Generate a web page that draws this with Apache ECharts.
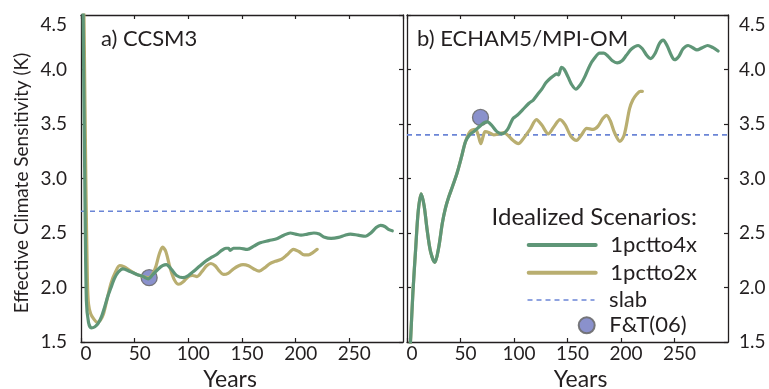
<!DOCTYPE html>
<html>
<head>
<meta charset="utf-8">
<script src="https://cdn.jsdelivr.net/npm/echarts@6/dist/echarts.min.js"></script>
<style>
  html, body { margin: 0; padding: 0; background: #ffffff; }
  #chart { width: 769px; height: 389px; }
</style>
</head>
<body>
<div id="chart"></div>
<script>
// Effective climate sensitivity (K) against years, two coupled models.
// Each run is a list of [year, sensitivity] pairs.

// Panel a) CCSM3
const ccsm3Pct4x = [
  [1.5, 5.0], [2.2, 4.3], [3.4, 3.1], [5, 1.88], [7, 1.68], [9.6, 1.63], [13, 1.64],
  [16, 1.67], [19, 1.73], [22, 1.82], [25, 1.92], [28, 2.0], [31, 2.08], [34.6, 2.14],
  [39, 2.17], [45, 2.15], [52, 2.12], [58, 2.1], [62.6, 2.08], [67, 2.12], [72, 2.17],
  [76, 2.2], [79.5, 2.21], [84, 2.17], [89, 2.11], [95, 2.09], [100, 2.11], [105, 2.15],
  [111, 2.2], [116, 2.24], [120.5, 2.27], [126, 2.3], [131, 2.34], [135, 2.36],
  [137.5, 2.36], [139, 2.34], [142, 2.36], [148, 2.36], [155, 2.35], [161, 2.38],
  [167, 2.41], [175, 2.43], [183, 2.45], [189, 2.48], [195, 2.5], [200, 2.49],
  [205, 2.48], [211, 2.49], [217, 2.5], [222, 2.49], [227, 2.46], [233, 2.45],
  [240, 2.46], [246, 2.48], [251, 2.49], [258, 2.48], [265, 2.47], [270, 2.5],
  [275, 2.55], [279, 2.57], [283, 2.56], [287, 2.53], [290, 2.52]
];
const ccsm3Pct2x = [
  [2.0, 5.0], [3.0, 4.3], [4.5, 3.0], [6, 2.05], [7, 1.85], [9, 1.76], [12, 1.71],
  [15, 1.68], [18, 1.7], [21, 1.76], [24, 1.88], [28, 2.04], [32, 2.14], [36, 2.2],
  [40, 2.19], [45, 2.16], [52, 2.12], [58, 2.1], [63, 2.09], [67, 2.13], [70, 2.2],
  [73, 2.31], [76, 2.37], [79, 2.33], [83, 2.18], [87, 2.07], [91, 2.03], [95, 2.05],
  [100, 2.1], [104, 2.11], [108, 2.1], [113, 2.15], [117, 2.2], [121, 2.22], [125, 2.2],
  [129, 2.15], [133, 2.12], [137, 2.13], [142, 2.17], [147, 2.2], [151, 2.21],
  [156, 2.2], [161, 2.17], [166, 2.15], [171, 2.18], [176, 2.22], [181, 2.24],
  [187, 2.26], [192, 2.3], [198, 2.35], [203, 2.33], [208, 2.3], [212, 2.3],
  [216, 2.32], [220, 2.35]
];
const ccsm3Slab = 2.70;
const ccsm3FT = [[63.5, 2.09]];

// Panel b) ECHAM5/MPI-OM
const echamPct4x = [
  [2, 1.3], [3.5, 1.55], [5.5, 1.95], [8, 2.34], [10.5, 2.7], [13.2, 2.86], [16, 2.75],
  [18.8, 2.53], [22, 2.33], [26, 2.23], [29.5, 2.36], [33, 2.59], [36, 2.73], [39, 2.83],
  [43, 2.94], [46.8, 3.05], [51, 3.2], [54.7, 3.34], [58.5, 3.4], [62.4, 3.43], [67, 3.47],
  [71.8, 3.51], [75, 3.52], [79, 3.49], [84, 3.43], [89, 3.41], [94, 3.45], [99, 3.55],
  [103, 3.58], [108, 3.63], [114, 3.69], [118, 3.72], [122, 3.77], [126, 3.82],
  [130, 3.88], [134, 3.92], [138, 3.95], [140, 3.96], [141.5, 3.95], [144.4, 4.02],
  [147, 4.0], [150.6, 3.93], [154, 3.86], [157.8, 3.82], [162, 3.86], [166, 3.93],
  [171, 4.04], [175, 4.1], [180, 4.15], [184, 4.15], [188, 4.12], [192, 4.08],
  [196.4, 4.06], [201, 4.08], [205, 4.13], [210, 4.19], [216, 4.22], [220, 4.19],
  [224, 4.13], [227.6, 4.1], [232, 4.15], [236, 4.24], [239.4, 4.27], [243, 4.22],
  [247, 4.13], [250, 4.09], [254, 4.12], [258, 4.19], [262.7, 4.22], [267, 4.2],
  [271, 4.18], [276, 4.2], [281, 4.22], [286, 4.2], [290.7, 4.17]
];
const echamPct2x = [
  [2, 1.3], [3.5, 1.55], [5.5, 1.95], [8, 2.34], [10.5, 2.7], [13.2, 2.86], [16, 2.75],
  [18.8, 2.53], [22, 2.33], [26, 2.23], [29.5, 2.36], [33, 2.59], [36, 2.73], [39, 2.83],
  [43, 2.94], [46.8, 3.05], [51, 3.2], [54.7, 3.34], [59, 3.43], [64, 3.45], [66.5, 3.4],
  [69, 3.32], [71, 3.38], [73, 3.43], [77, 3.42], [81, 3.40], [86, 3.41], [90.5, 3.42],
  [95, 3.39], [99, 3.35], [104, 3.32], [109, 3.37], [115, 3.45], [121, 3.54], [126, 3.49],
  [132, 3.41], [137, 3.47], [143, 3.54], [148, 3.49], [153, 3.39], [158.4, 3.35],
  [163, 3.4], [168, 3.46], [174, 3.45], [178.6, 3.48], [183, 3.55], [186.5, 3.58],
  [190, 3.53], [194, 3.42], [199, 3.34], [203, 3.4], [208, 3.64], [211, 3.72],
  [214.5, 3.77], [218, 3.8], [220, 3.8]
];
const echamSlab = 3.40;
const echamFT = [[68.7, 3.56]];

const yearTicks = [0, 50, 100, 150, 200, 250, 300];
const sensitivityTicks = [1.5, 2.0, 2.5, 3.0, 3.5, 4.0, 4.5];

const FONT = 'Lato';
const INK = '#231f20';
const GREEN = '#5f9677';
const OLIVE = '#b9ae70';
const SLAB_BLUE = '#6b85d6';
const FT_FILL = '#8088c8';

const yearMin = yearTicks[0], yearMax = yearTicks[yearTicks.length - 1];
const yearStep = yearTicks[1] - yearTicks[0];
const sMin = sensitivityTicks[0], sMax = sensitivityTicks[sensitivityTicks.length - 1];
const sStep = sensitivityTicks[1] - sensitivityTicks[0];

const frameLine = { show: true, onZero: false, lineStyle: { color: INK, width: 1.3 } };
const innerTick = { show: true, inside: true, length: 4, lineStyle: { color: INK, width: 1.2 } };

function xAxes(gridIndex, namePadding) {
  return [
    {
      gridIndex, type: 'value', position: 'bottom', min: yearMin, max: yearMax, interval: yearStep,
      axisLine: frameLine, axisTick: innerTick, splitLine: { show: false },
      axisLabel: { show: true, fontFamily: FONT, fontSize: 19, color: INK, margin: 2,
                   showMaxLabel: false, padding: [0, 0, 0, 10] },
      name: 'Years', nameLocation: 'middle', nameGap: 25,
      nameTextStyle: { fontFamily: FONT, fontSize: 23, color: INK, padding: namePadding }
    },
    {
      gridIndex, type: 'value', position: 'top', min: yearMin, max: yearMax, interval: yearStep,
      axisLine: frameLine, axisTick: innerTick, splitLine: { show: false },
      axisLabel: { show: false }
    }
  ];
}

function yAxes(gridIndex, labelSide) {
  const make = (pos) => {
    const labelled = pos === labelSide;
    return {
      gridIndex, type: 'value', position: pos, min: sMin, max: sMax, interval: sStep,
      axisLine: frameLine, axisTick: innerTick, splitLine: { show: false },
      axisLabel: labelled ? {
        show: true, fontFamily: FONT, fontSize: 19, color: INK,
        margin: pos === 'left' ? 14 : 11,
        verticalAlignMaxLabel: 'top',
        formatter: (v) => v.toFixed(1)
      } : { show: false }
    };
  };
  return [make('left'), make('right')];
}

function runLine(name, data, color, xi, yi, z) {
  return {
    name, type: 'line', data, xAxisIndex: xi, yAxisIndex: yi,
    showSymbol: false, symbol: 'none', smooth: 0.3, clip: true, z,
    lineStyle: { color, width: 3.2, cap: 'round', join: 'round' },
    itemStyle: { color }, emphasis: { disabled: true }, silent: true
  };
}

function slabLine(value, xi, yi) {
  return {
    name: 'slab', type: 'line', data: [[yearMin, value], [yearMax, value]],
    xAxisIndex: xi, yAxisIndex: yi, showSymbol: false, symbol: 'none', z: 2,
    lineStyle: { color: SLAB_BLUE, width: 1.6, type: [5, 4] },
    itemStyle: { color: SLAB_BLUE }, silent: true
  };
}

function ftPoint(data, xi, yi) {
  return {
    name: 'F&T(06)', type: 'scatter', data, xAxisIndex: xi, yAxisIndex: yi,
    symbol: 'circle', symbolSize: 16, z: 3,
    itemStyle: { color: FT_FILL, borderColor: '#6e6e70', borderWidth: 1.3, opacity: 0.92 },
    silent: true
  };
}

// Legend rows: one component per row; all rows share the same icon box,
// so their texts line up. The F&T icon puts its circle at the right end of the box.
const LEGEND_LEFT = 526.7, LEGEND_ICON_W = 67;
const ftIcon = 'path://M0 8L0.001 8M51 8A8 8 0 1 1 67 8A8 8 0 1 1 51 8Z';
function legendRow(name, centerY, itemHeight, extra) {
  return Object.assign({
    data: [name], orient: 'horizontal', left: LEGEND_LEFT, top: centerY - itemHeight / 2,
    itemWidth: LEGEND_ICON_W, itemHeight, itemGap: 0, padding: 0, selectedMode: false,
    formatter: '{t|{name}}',
    textStyle: {
      fontFamily: FONT, fontSize: 22, color: INK,
      rich: { t: { fontFamily: FONT, fontSize: 22, color: INK, padding: [0, 0, 0, 9.6] } }
    }
  }, extra || {});
}
const lineRowStyle = (w) => ({ lineStyle: { width: w }, itemStyle: { opacity: 0, borderWidth: 0 } });

const chart = echarts.init(document.getElementById('chart'), null, { renderer: 'canvas' });

chart.setOption({
  backgroundColor: '#ffffff',
  animation: false,
  grid: [
    { left: 81, top: 15, width: 322, height: 327, show: false, containLabel: false, outerBoundsMode: 'none' },
    { left: 407, top: 15, width: 321, height: 327, show: false, containLabel: false, outerBoundsMode: 'none' }
  ],
  xAxis: [...xAxes(0, [0, 24, 0, 0]), ...xAxes(1, [0, 0, 0, 26])],
  yAxis: [...yAxes(0, 'left'), ...yAxes(1, 'right')],
  legend: [
    legendRow('1pctto4x', 244, 20, lineRowStyle(4)),
    legendRow('1pctto2x', 271.7, 20, lineRowStyle(4)),
    legendRow('slab', 299, 20, lineRowStyle(1.6)),
    legendRow('F&T(06)', 322.3, 16, { icon: ftIcon })
  ],
  graphic: [
    { type: 'text', x: 22, y: 183, rotation: Math.PI / 2, silent: true,
      style: { text: 'Effective Climate Sensitivity (K)', font: '19px ' + FONT, fill: INK,
               textAlign: 'center', textVerticalAlign: 'middle' } },
    { type: 'text', left: 101, top: 28, silent: true,
      style: { text: 'a) CCSM3', font: '22px ' + FONT, fill: INK } },
    { type: 'text', left: 417, top: 28, silent: true,
      style: { text: 'b) ECHAM5/MPI-OM', font: '22px ' + FONT, fill: INK } },
    { type: 'text', right: 72, top: 205, silent: true,
      style: { text: 'Idealized Scenarios:', font: '24px ' + FONT, fill: INK } }
  ],
  series: [
    slabLine(ccsm3Slab, 0, 0),
    ftPoint(ccsm3FT, 0, 0),
    runLine('1pctto2x', ccsm3Pct2x, OLIVE, 0, 0, 4),
    runLine('1pctto4x', ccsm3Pct4x, GREEN, 0, 0, 5),
    slabLine(echamSlab, 2, 2),
    ftPoint(echamFT, 2, 2),
    runLine('1pctto2x', echamPct2x, OLIVE, 2, 2, 4),
    runLine('1pctto4x', echamPct4x, GREEN, 2, 2, 5)
  ]
});
</script>
</body>
</html>
